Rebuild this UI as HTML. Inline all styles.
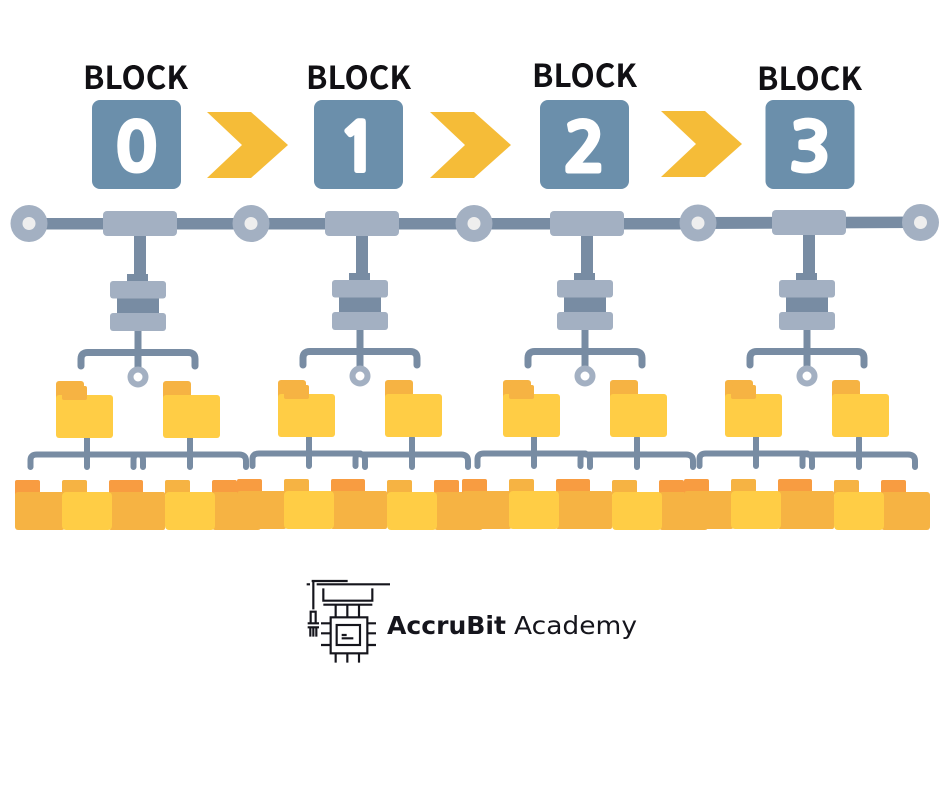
<!DOCTYPE html>
<html><head><meta charset="utf-8"><style>
html,body{margin:0;padding:0;background:#fff}
svg{display:block}
.l{font:bold 32px "Noto Sans CJK JP","Liberation Sans",sans-serif;fill:#111014}
.d{font:bold 67px "NanumGothic","Liberation Sans",sans-serif;fill:#fff;stroke:#fff;stroke-width:4px;stroke-linejoin:round;text-anchor:middle}
</style></head><body>
<svg width="940" height="788" viewBox="0 0 940 788" xmlns="http://www.w3.org/2000/svg">
<defs>
<g id="chev"><polygon points="207,112 251,112 288,145 251,178 207,178 242,145" fill="#f5bc38"/></g>
<g id="sq"><rect x="92" y="100" width="89" height="89" rx="8" fill="#6b8fab"/></g>
<g id="node"><circle cx="0" cy="0" r="18.5" fill="#a3b0c2"/><circle cx="0" cy="0" r="6.5" fill="#eeeeee"/></g>
<g id="bar"><rect x="134" y="236" width="12" height="39" fill="#788ca3"/><rect x="103" y="211" width="74" height="25" rx="4" fill="#a3b0c2"/></g>
<g id="tree">
<rect x="127" y="274" width="21" height="9" fill="#788ca3"/>
<rect x="117" y="296" width="42" height="20" fill="#788ca3"/>
<rect x="110" y="281" width="56" height="17.500" rx="3" fill="#a3b0c2"/>
<rect x="110" y="313" width="56" height="18" rx="3" fill="#a3b0c2"/>
<rect x="134.500" y="331" width="7" height="40" fill="#788ca3"/>
<path d="M81 366V359Q81 352.500 88 352.500H188Q195 352.500 195 359V366" fill="none" stroke="#788ca3" stroke-width="7" stroke-linecap="round"/>
<circle cx="138" cy="377" r="7.500" fill="#fff" stroke="#a3b0c2" stroke-width="6"/>
<rect x="56" y="381" width="28" height="20" rx="3" fill="#f6b343"/><rect x="56" y="395" width="57" height="43" rx="3" fill="#ffcd45"/><rect x="62" y="386" width="25" height="14" rx="2" fill="#f6b343"/>
<rect x="163" y="381" width="28" height="20" rx="3" fill="#f6b343"/><rect x="163" y="395" width="57" height="43" rx="3" fill="#ffcd45"/>
</g>
<g id="lowL">
<path d="M87 438V467M30.500 467V460Q30.500 454.500 37 454.500H138.500M133.500 467V460Q133.500 456 136 454.500" fill="none" stroke="#788ca3" stroke-width="6" stroke-linecap="round"/>
<rect x="15" y="480" width="25" height="16" rx="2" fill="#f89c41"/>
<rect x="15" y="492" width="50" height="38" rx="3" fill="#f6b343"/>
<rect x="109" y="480" width="25" height="16" rx="2" fill="#f89c41"/>
<rect x="118" y="480" width="25" height="16" rx="2" fill="#f89c41"/>
<rect x="109" y="492" width="56" height="38" rx="2" fill="#f6b343"/>
<rect x="62" y="480" width="25" height="16" rx="2" fill="#f6b343"/>
<rect x="62" y="492" width="50" height="38" rx="4" fill="#ffcd45"/>
</g>
<g id="lowR">
<path d="M190 438V467M138.500 454.500H239Q246 454.500 246 461V467M143 467V460Q143 456 140.500 454.500" fill="none" stroke="#788ca3" stroke-width="6" stroke-linecap="round"/>
<rect x="212" y="480" width="25" height="16" rx="2" fill="#f89c41"/>
<rect x="212" y="492" width="49" height="38" rx="3" fill="#f6b343"/>
<rect x="165" y="480" width="25" height="16" rx="2" fill="#f6b343"/>
<rect x="165" y="492" width="50" height="38" rx="4" fill="#ffcd45"/>
</g>
</defs>

<rect x="29" y="218" width="670" height="11.500" fill="#788ca3"/>
<polygon points="698,217 920,216.500 920,228 698,229" fill="#788ca3"/>
<use href="#node" x="29" y="223.500"/>
<use href="#node" x="251" y="223.500"/>
<use href="#node" x="474" y="223.500"/>
<use href="#node" x="698" y="223"/>
<use href="#node" x="920.500" y="222.500"/>

<use href="#bar"/>
<use href="#bar" x="222"/>
<use href="#bar" x="447"/>
<use href="#bar" x="669" y="-1"/>

<use href="#lowL"/><use href="#lowR"/>
<use href="#lowR" x="222"/><use href="#lowL" x="222" y="-1"/>
<use href="#lowR" x="447"/><use href="#lowL" x="447" y="-1"/>
<use href="#lowR" x="669"/><use href="#lowL" x="669" y="-1"/>

<use href="#tree"/>
<use href="#tree" x="222" y="-1"/>
<use href="#tree" x="447" y="-1"/>
<use href="#tree" x="669" y="-1"/>

<use href="#chev"/>
<use href="#chev" x="223"/>
<use href="#chev" x="454" y="-1"/>
<use href="#sq"/>
<use href="#sq" x="222"/>
<use href="#sq" x="448"/>
<use href="#sq" x="673.500"/>

<text class="l" x="83" y="89" textLength="105" lengthAdjust="spacingAndGlyphs">BLOCK</text>
<text class="l" x="306" y="89" textLength="105" lengthAdjust="spacingAndGlyphs">BLOCK</text>
<text class="l" x="532" y="87" textLength="105" lengthAdjust="spacingAndGlyphs">BLOCK</text>
<text class="l" x="757" y="90" textLength="105" lengthAdjust="spacingAndGlyphs">BLOCK</text>
<text class="d" x="136.500" y="171" textLength="42" lengthAdjust="spacingAndGlyphs">0</text>
<text class="d" x="358.500" y="171" textLength="42" lengthAdjust="spacingAndGlyphs">1</text>
<text class="d" x="584.500" y="171" textLength="42" lengthAdjust="spacingAndGlyphs">2</text>
<text class="d" x="810" y="171" textLength="42" lengthAdjust="spacingAndGlyphs">3</text>

<g transform="translate(295 570) scale(.33333)" fill="none" stroke="#15151c" stroke-width="6.500">
<path d="M50 33H158M35 43H45M65 43H285M55 33V118"/>
<path d="M85 55V92H232V55M85 104H232" />
<path d="M122 104V140M157 104V140M192 104V140"/>
<rect x="107" y="142" width="110" height="108"/>
<rect x="125" y="165" width="70" height="60"/>
<path d="M140 195H155M140 205H175" />
<path d="M78 160H107M78 190H107M78 225H107M217 160H243M217 190H243M217 225H243M122 250V278M157 250V278M192 250V278"/>
<path d="M47 160V125H62V160M38 160H72M38 172H72M46 172V200M55 172V200M64 172V200"/>
</g>
<text x="387" y="634" font-family="DejaVu Sans,sans-serif" font-size="25" font-weight="bold" fill="#15151c" textLength="119" lengthAdjust="spacingAndGlyphs">AccruBit</text>
<text x="514" y="634" font-family="DejaVu Sans,sans-serif" font-size="25" fill="#15151c" textLength="123" lengthAdjust="spacingAndGlyphs">Academy</text>
</svg>
</body></html>
